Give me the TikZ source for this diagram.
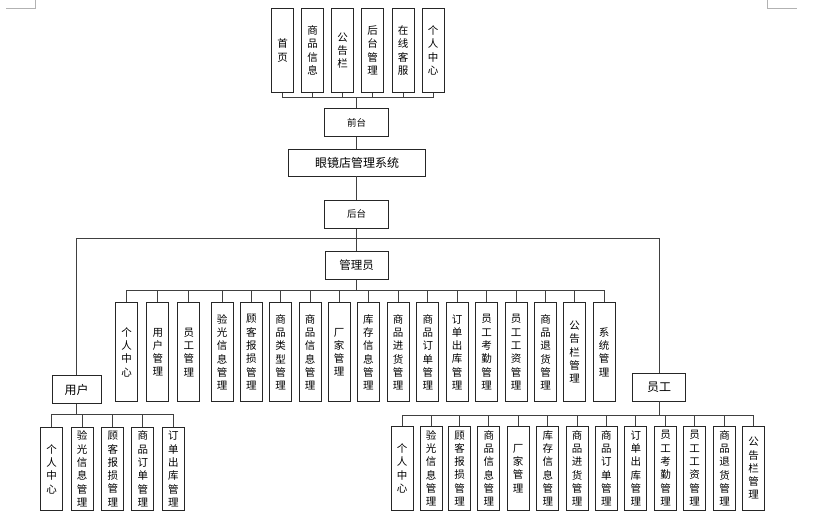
\documentclass[tikz,border=0pt]{standalone}
\usepackage{fontspec}
\newfontfamily\cjk{Noto Sans CJK SC}
\begin{document}
\begin{tikzpicture}[x=1pt,y=-1pt,
  box/.style={draw=black!85,line width=0.8pt,inner sep=0pt,align=center,font=\cjk\fontsize{12}{14}\selectfont},
  vbox/.style={draw=black!85,line width=0.8pt,inner sep=0pt,align=center,minimum width=22pt,font=\cjk\fontsize{10.5}{13.3}\selectfont},
  conn/.style={draw=black!75,line width=0.8pt},
  cornermark/.style={draw=black!30,line width=0.6pt}]
\useasboundingbox (0,0) rectangle (814,515);
% corner marks
\draw[cornermark] (6,8.3) -- (35.7,8.3) -- (35.7,0);
\draw[cornermark] (767.3,0) -- (767.3,8.3) -- (796.7,8.3);

% top row
\foreach \n/\x/\t in {t1/282.5/首\\页, t2/312.6/商\\品\\信\\息, t3/342.6/公\\告\\栏, t4/372.6/后\\台\\管\\理, t5/403.2/在\\线\\客\\服, t6/433.2/个\\人\\中\\心}
  \node[vbox,minimum height=84.4pt] (\n) at (\x,50.5) {\t};
\node[box,minimum width=64pt,minimum height=28.4pt,font=\cjk\fontsize{9.5}{11}\selectfont] (qian) at (356.7,122.5) {前台};
\node[box,minimum width=137.4pt,minimum height=27pt] (sys) at (357,162.5) {眼镜店管理系统};
\node[box,minimum width=64pt,minimum height=28.3pt,font=\cjk\fontsize{9.5}{11}\selectfont] (hou) at (356.7,214.2) {后台};
\coordinate (topbus) at (356.7,97.7);
\coordinate (bus) at (356.7,238.5);

\draw[conn] (t1.south) -- (t1.south |- topbus) -- (t6.south |- topbus) -- (t6.south);
\foreach \n in {t2,t3,t4,t5} \draw[conn] (\n.south) -- (\n.south |- topbus);
\draw[conn] (qian.north) -- (qian.north |- topbus);
\draw[conn] (qian.south) -- (sys.north -| qian.south);
\draw[conn] (sys.south -| hou.north) -- (hou.north);
\draw[conn] (hou.south) -- (hou.south |- bus);

% second level
\node[box,minimum width=63pt,minimum height=27.6pt,font=\cjk\fontsize{11.5}{13}\selectfont] (admin) at (356.7,265.5) {管理员};
\node[box,minimum width=49.3pt,minimum height=27.6pt] (user) at (76.7,389.5) {用户};
\node[box,minimum width=53.4pt,minimum height=27.7pt] (emp) at (659,387.2) {员工};
\draw[conn] (user.north) |- (emp.north |- bus) -- (emp.north);
\draw[conn] (admin.north) -- (admin.north |- bus);

% admin children
\coordinate (abus) at (356.7,290);
\foreach \n/\x/\t in {a1/126.7/个\\人\\中\\心, a2/157.8/用\\户\\管\\理, a3/188.8/员\\工\\管\\理, a4/222.1/验\\光\\信\\息\\管\\理, a5/251.3/顾\\客\\报\\损\\管\\理, a6/280.7/商\\品\\类\\型\\管\\理, a7/310/商\\品\\信\\息\\管\\理, a8/339.2/厂\\家\\管\\理, a9/368.3/库\\存\\信\\息\\管\\理, a10/398/商\\品\\进\\货\\管\\理, a11/427.8/商\\品\\订\\单\\管\\理, a12/457.2/订\\单\\出\\库\\管\\理, a13/486.7/员\\工\\考\\勤\\管\\理, a14/516.2/员\\工\\工\\资\\管\\理, a15/545.5/商\\品\\退\\货\\管\\理, a16/574.5/公\\告\\栏\\管\\理, a17/604.2/系\\统\\管\\理}
{
  \node[vbox,minimum height=99pt] (\n) at (\x,352.2) {\t};
  \draw[conn] (\n.north) -- (\n.north |- abus);
}
\draw[conn] (a1.north |- abus) -- (a17.north |- abus);
\draw[conn] (admin.south) -- (admin.south |- abus);

% user children
\coordinate (ubus) at (76.7,414);
\foreach \n/\x/\t in {u1/51.7/个\\人\\中\\心, u2/82.2/验\\光\\信\\息\\管\\理, u3/112.8/顾\\客\\报\\损\\管\\理, u4/142.8/商\\品\\订\\单\\管\\理, u5/173.3/订\\单\\出\\库\\管\\理}
{
  \node[vbox,minimum height=83.4pt] (\n) at (\x,469) {\t};
  \draw[conn] (\n.north) -- (\n.north |- ubus);
}
\draw[conn] (u1.north |- ubus) -- (u5.north |- ubus);
\draw[conn] (user.south) -- (user.south |- ubus);

% employee children
\coordinate (ebus) at (659,415.7);
\foreach \n/\x/\t in {e1/402/个\\人\\中\\心, e2/431.2/验\\光\\信\\息\\管\\理, e3/459.5/顾\\客\\报\\损\\管\\理, e4/488.8/商\\品\\信\\息\\管\\理, e5/518/厂\\家\\管\\理, e6/547.8/库\\存\\信\\息\\管\\理, e7/577.2/商\\品\\进\\货\\管\\理, e8/606.3/商\\品\\订\\单\\管\\理, e9/635.8/订\\单\\出\\库\\管\\理, e10/665.5/员\\工\\考\\勤\\管\\理, e11/694.7/员\\工\\工\\资\\管\\理, e12/724.5/商\\品\\退\\货\\管\\理, e13/753.7/公\\告\\栏\\管\\理}
{
  \node[vbox,minimum height=83.3pt] (\n) at (\x,468.3) {\t};
  \draw[conn] (\n.north) -- (\n.north |- ebus);
}
\draw[conn] (e1.north |- ebus) -- (e13.north |- ebus);
\draw[conn] (emp.south) -- (emp.south |- ebus);
\end{tikzpicture}
\end{document}
